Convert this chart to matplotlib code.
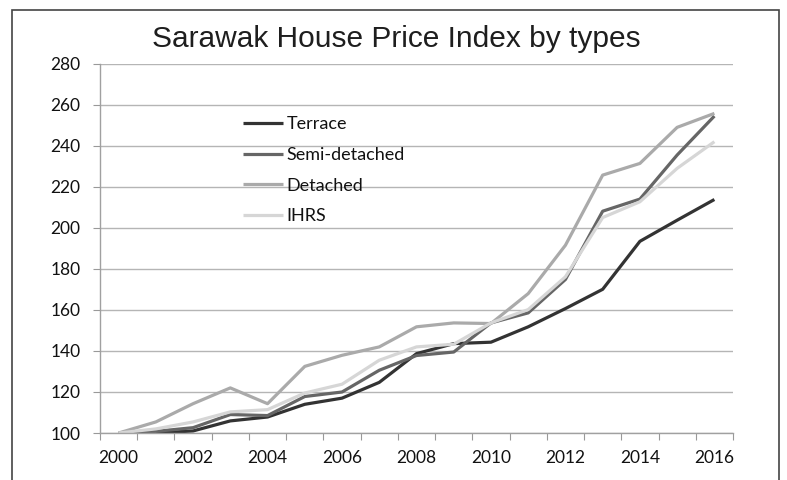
import matplotlib.pyplot as plt
from matplotlib.patches import Rectangle

years = list(range(2000, 2017))
terrace = [None, 100.0, 101.0, 105.9, 107.8, 114.0, 117.0, 124.7, 138.7, 143.6,
           144.3, 151.8, 160.7, 170.1, 193.5, 203.8, 213.9]
semi_detached = [100.0, 100.8, 102.6, 109.0, 108.5, 117.8, 120.0, 130.6, 137.8, 139.5,
                 153.7, 158.6, 174.9, 208.2, 214.1, 235.6, 254.6]
detached = [100.0, 105.4, 114.3, 122.0, 114.3, 132.5, 137.9, 142.0, 151.8, 153.7,
            153.4, 168.0, 191.6, 225.8, 231.5, 249.1, 255.9]
ihrs = [100.0, 102.0, 105.4, 110.3, 111.4, 119.5, 123.8, 135.5, 142.0, 143.3,
        153.7, 160.2, 176.2, 205.1, 212.8, 229.1, 242.1]

series = [('Terrace', terrace, '#333333'),
          ('Semi-detached', semi_detached, '#666666'),
          ('Detached', detached, '#aaaaaa'),
          ('IHRS', ihrs, '#d6d6d6')]

fig = plt.figure(figsize=(7.87, 4.8), dpi=100)
ax = fig.add_axes([100 / 787, 1 - 433 / 480, 633 / 787, 369 / 480])

xs = list(range(len(years)))
for name, vals, col in series:
    px = [x for x, v in zip(xs, vals) if v is not None]
    py = [v for v in vals if v is not None]
    ax.plot(px, py, color=col, lw=2.3, label=name, solid_capstyle='butt')

ax.set_xlim(-0.5, len(years) - 0.5)
ax.set_ylim(100, 280)
ax.set_yticks(range(100, 281, 20))
ax.yaxis.grid(True, color='#b5b5b5', lw=1)
ax.set_axisbelow(True)

# category axis: tick marks between categories, labels on every other year
ax.set_xticks([x - 0.5 for x in range(len(years) + 1)])
ax.set_xticklabels([])
ax.set_xticks(xs[::2], minor=True)
ax.set_xticklabels([str(y) for y in years[::2]], minor=True)
ax.tick_params(axis='x', which='major', length=5, color='#999999', direction='out')
ax.tick_params(axis='x', which='minor', length=0, pad=12)
ax.tick_params(axis='y', length=5, color='#999999', pad=9)

for lab in ax.get_xticklabels(minor=True) + ax.get_yticklabels():
    lab.set_fontfamily('Lato')
    lab.set_fontsize(12.5)
    lab.set_color('#111111')

for s in ['top', 'right']:
    ax.spines[s].set_visible(False)
for s in ['left', 'bottom']:
    ax.spines[s].set_color('#a0a0a0')
    ax.spines[s].set_linewidth(1)

leg = ax.legend(loc='upper left', bbox_to_anchor=(234 / 787, 1 - 107 / 480),
                bbox_transform=fig.transFigure, frameon=False,
                prop={'family': 'Lato', 'size': 13}, handlelength=2.2,
                handletextpad=0.22, labelspacing=0.82, borderpad=0)
for t in leg.get_texts():
    t.set_color('#111111')

fig.text(396 / 787, 1 - 47 / 480, 'Sarawak House Price Index by types',
         ha='center', va='baseline', fontsize=21.5, family='Liberation Sans',
         color='#1e1e1e')

fig.patches.append(Rectangle((12 / 787, -0.05), 767 / 787, 1.05 - 10 / 480,
                             transform=fig.transFigure, fill=False,
                             edgecolor='#444444', lw=1.2))

fig.savefig('out.png', dpi=100)
